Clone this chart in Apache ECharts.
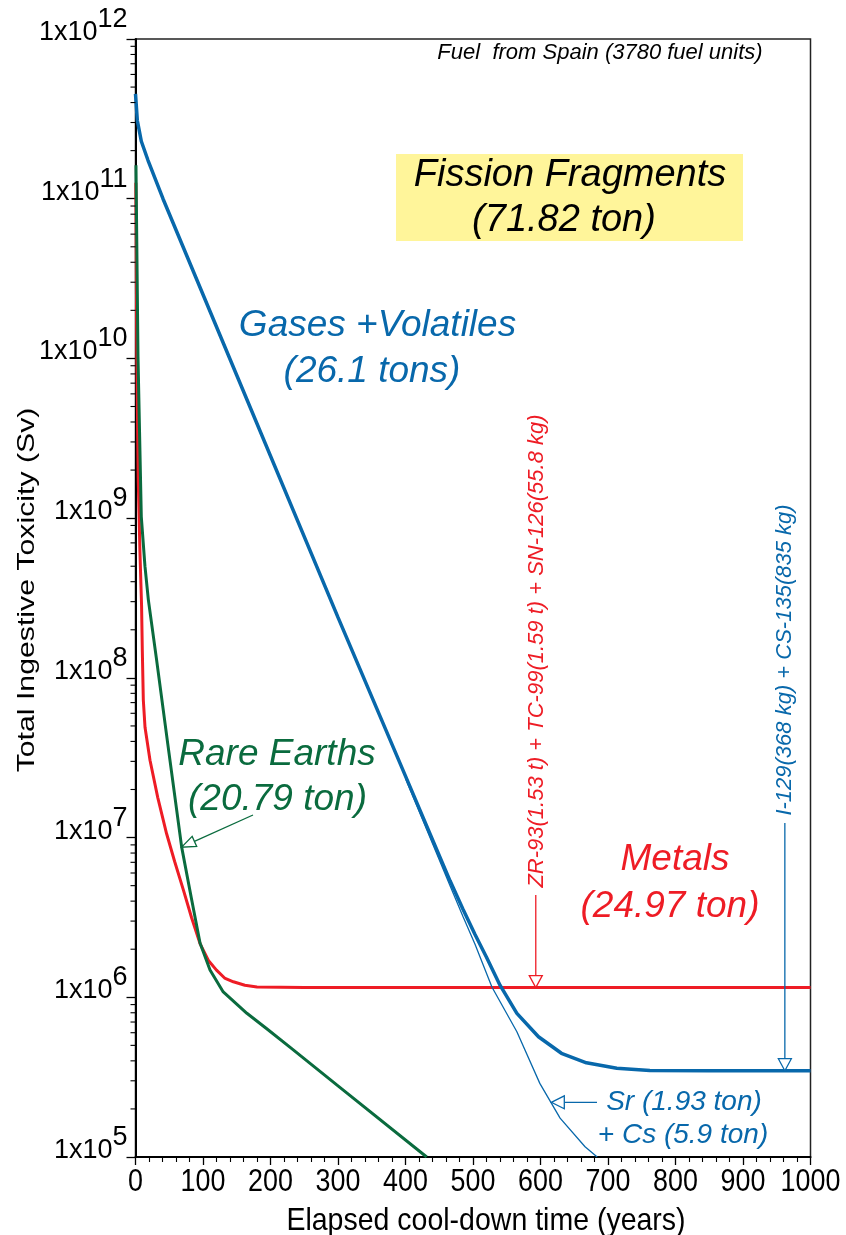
<!DOCTYPE html>
<html>
<head>
<meta charset="utf-8">
<script src="https://cdn.jsdelivr.net/npm/echarts@6/dist/echarts.min.js"></script>
<style>
  html, body { margin: 0; padding: 0; background: #fff; }
  #chart { width: 846px; height: 1235px; }
</style>
</head>
<body>
<div id="chart"></div>
<script>
// Total ingestive toxicity (Sv) of fission-fragment groups vs. cool-down time (years)

// Gases + Volatiles (26.1 tons)
const volatilesYears = [0, 2.7, 8.6, 18.5, 40.7, 150, 300, 466, 485, 503, 520, 540, 565, 597, 631, 668, 713, 762, 850, 1000];
const volatilesSv    = [4.53e11, 3.09e11, 2.29e11, 1.74e11, 1.0e11, 7.85e9, 2.39e8, 5.36e6, 3.57e6, 2.47e6, 1.78e6, 1.19e6, 7.93e5, 5.66e5, 4.46e5, 3.89e5, 3.59e5, 3.48e5, 3.47e5, 3.47e5];

// Sr (1.93 ton) + Cs (5.9 ton)
const srCsYears = [400, 466, 485, 503, 528, 565, 599, 629, 666, 684];
const srCsSv    = [2.34e7, 5.0e6, 3.22e6, 2.15e6, 1.16e6, 6.08e5, 2.89e5, 1.75e5, 1.16e5, 1.0e5];

// Metals (24.97 ton)
const metalsYears = [0.5, 2, 4, 6.5, 9, 10.1, 11.6, 14.1, 21.5, 33, 46, 58, 71, 83, 95.6, 108, 120, 132, 145, 162, 180, 250, 1000];
const metalsSv    = [1.26e11, 1.0e10, 1.78e9, 6.31e8, 2.82e8, 1.48e8, 7.24e7, 4.9e7, 3.05e7, 1.78e7, 1.06e7, 7.08e6, 4.69e6, 3.16e6, 2.17e6, 1.70e6, 1.48e6, 1.32e6, 1.25e6, 1.19e6, 1.16e6, 1.15e6, 1.15e6];

// Rare Earths (20.79 ton)
const rareEarthYears = [0.7, 3.7, 8.6, 14, 19, 31, 47.7, 68.4, 83.3, 95.6, 110.4, 130, 165, 194, 231, 300, 431.4];
const rareEarthSv    = [1.62e11, 1.02e10, 1.02e9, 5.0e8, 3.09e8, 1.32e8, 3.89e7, 8.71e6, 4.07e6, 2.19e6, 1.48e6, 1.08e6, 7.94e5, 6.38e5, 4.79e5, 2.79e5, 1.0e5];

// Axis ranges and tick labels
const xTickValues = [0, 100, 200, 300, 400, 500, 600, 700, 800, 900, 1000];
const xTickLabels = ['0', '100', '200', '300', '400', '500', '600', '700', '800', '900', '1000'];
const yTickPowers = [5, 6, 7, 8, 9, 10, 11, 12];

const BLUE = '#0868ab';
const RED = '#ee1c25';
const GREEN = '#0a6b3e';
const FONT = '"Liberation Sans", Arial, sans-serif';

function pairs(xs, ys) { return xs.map((x, i) => [x, ys[i]]); }

const chart = echarts.init(document.getElementById('chart'), null, { renderer: 'canvas' });

const option = {
  animation: false,
  backgroundColor: '#fff',
  grid: {
    left: 135.5, right: 35.5, top: 39, bottom: 78,
    show: true, borderColor: '#222', borderWidth: 1.5,
    containLabel: false, outerBoundsMode: 'none'
  },
  xAxis: {
    type: 'value',
    min: xTickValues[0], max: xTickValues[xTickValues.length - 1], interval: 100,
    splitLine: { show: false },
    axisLine: { onZero: false, lineStyle: { color: '#000', width: 2 } },
    axisTick: { length: 8, lineStyle: { color: '#000', width: 1.3 } },
    minorTick: { show: true, splitNumber: 5, length: 5, lineStyle: { color: '#000', width: 1.1 } },
    minorSplitLine: { show: false },
    // tick labels are drawn below as tall, slightly condensed text
    axisLabel: { show: false }
  },
  yAxis: {
    type: 'log', logBase: 10,
    min: Math.pow(10, yTickPowers[0]), max: Math.pow(10, yTickPowers[yTickPowers.length - 1]),
    splitNumber: 7,
    splitLine: { show: false },
    axisLine: { lineStyle: { color: '#000', width: 2 } },
    axisTick: { length: 9, lineStyle: { color: '#000', width: 1.3 } },
    axisLabel: {
      margin: 8, color: '#000',
      formatter: v => {
        const p = Math.round(Math.log10(v));
        return '{b|1x10}{e|' + p + '}';
      },
      rich: {
        b: { fontFamily: FONT, fontSize: 27, color: '#000', padding: [13, 0, 26, 0] },
        e: { fontFamily: FONT, fontSize: 27, color: '#000', verticalAlign: 'top' }
      }
    }
  },
  series: [
    {
      name: 'Metals', type: 'line', showSymbol: false, clip: true, z: 3,
      lineStyle: { color: RED, width: 3 },
      data: pairs(metalsYears, metalsSv)
    },
    {
      name: 'Rare Earths', type: 'line', showSymbol: false, clip: true, z: 4,
      lineStyle: { color: GREEN, width: 3 },
      data: pairs(rareEarthYears, rareEarthSv)
    },
    {
      name: 'Sr + Cs', type: 'line', showSymbol: false, clip: true, z: 5,
      lineStyle: { color: BLUE, width: 1.3 },
      data: pairs(srCsYears, srCsSv)
    },
    {
      name: 'Gases + Volatiles', type: 'line', showSymbol: false, clip: true, z: 6,
      lineStyle: { color: BLUE, width: 3.5 },
      data: pairs(volatilesYears, volatilesSv)
    }
  ]
};

chart.setOption(option);

// ---- overlays: tick labels, log minor ticks, titles, annotations ----
const toPx = (x, y) => chart.convertToPixel({ xAxisIndex: 0, yAxisIndex: 0 }, [x, y]);
const yMin = Math.pow(10, yTickPowers[0]);
const gridLeft = toPx(0, yMin)[0];
const gridBottom = toPx(0, yMin)[1];
const els = [];

function text(str, x, y, opts) {
  return Object.assign({
    type: 'text', x: x, y: y, silent: true, z: 120,
    style: Object.assign({ text: str, align: 'center', verticalAlign: 'middle', fill: '#000',
                           font: 'italic 37px ' + FONT }, opts.style || {})
  }, opts.el || {});
}

// x tick labels (tall, condensed digits)
xTickValues.forEach((v, i) => {
  const px = toPx(v, yMin)[0];
  els.push(text(xTickLabels[i], px, gridBottom + 25, {
    style: { font: '32px ' + FONT }, el: { scaleX: 0.84 }
  }));
});

// minor ticks at 2..9 x 10^k on the log axis
for (let k = yTickPowers[0]; k < yTickPowers[yTickPowers.length - 1]; k++) {
  for (let m = 2; m <= 9; m++) {
    const y = toPx(0, m * Math.pow(10, k))[1];
    els.push({ type: 'line', shape: { x1: gridLeft - 5, y1: y, x2: gridLeft, y2: y },
               style: { stroke: '#000', lineWidth: 1.1 }, silent: true, z: 50 });
  }
}

function arrow(tail, tip, color, len, half) {
  const ang = Math.atan2(tip[1] - tail[1], tip[0] - tail[0]);
  const bx = tip[0] - len * Math.cos(ang), by = tip[1] - len * Math.sin(ang);
  const px = -Math.sin(ang) * half, py = Math.cos(ang) * half;
  return [
    { type: 'line', shape: { x1: tail[0], y1: tail[1], x2: bx, y2: by },
      style: { stroke: color, lineWidth: 1.3 }, silent: true, z: 110 },
    { type: 'polygon', shape: { points: [tip, [bx + px, by + py], [bx - px, by - py]] },
      style: { fill: '#fff', stroke: color, lineWidth: 1.3 }, silent: true, z: 111 }
  ];
}

// axis titles
els.push(text('Total Ingestive Toxicity (Sv)', 27, 590, {
  style: { font: '24px ' + FONT },
  el: { rotation: Math.PI / 2, scaleX: 1.26 }
}));
els.push(text('Elapsed cool-down time (years)', 486, 1221, {
  style: { font: '28.5px ' + FONT },
  el: { scaleY: 1.12 }
}));

// header
els.push(text('Fuel  from Spain (3780 fuel units)', 600, 52.5, { style: { font: 'italic 22px ' + FONT } }));

// Fission Fragments box
els.push({ type: 'rect', shape: { x: 396, y: 154, width: 347, height: 87 },
           style: { fill: '#fff59a' }, silent: true, z: 100 });
els.push(text('Fission Fragments', 570, 175, { style: { font: 'italic 38px ' + FONT } }));
els.push(text('(71.82 ton)', 564, 220, { style: { font: 'italic 38px ' + FONT } }));

// group labels
els.push(text('Gases +Volatiles', 377.5, 326, { style: { fill: BLUE } }));
els.push(text('(26.1 tons)', 372, 372, { style: { fill: BLUE } }));
els.push(text('Rare Earths', 277, 755, { style: { fill: GREEN } }));
els.push(text('(20.79 ton)', 277.5, 800, { style: { fill: GREEN } }));
els.push(text('Metals', 675, 860, { style: { fill: RED } }));
els.push(text('(24.97 ton)', 670, 906.5, { style: { fill: RED } }));
els.push(text('Sr (1.93 ton)', 684, 1102.5, { style: { fill: BLUE, font: 'italic 28px ' + FONT } }));
els.push(text('+ Cs (5.9 ton)', 683, 1135, { style: { fill: BLUE, font: 'italic 28px ' + FONT } }));

// long-lived nuclide call-outs
els.push(text('ZR-93(1.53 t) + TC-99(1.59 t) + SN-126(55.8 kg)', 537, 651, {
  style: { fill: RED, font: 'italic 22px ' + FONT }, el: { rotation: Math.PI / 2 }
}));
const metalsTip = toPx(593, metalsSv[metalsSv.length - 1]);
arrow([metalsTip[0], 895], metalsTip, RED, 12, 6.5).forEach(e => els.push(e));

els.push(text('I-129(368 kg) + CS-135(835 kg)', 785, 660, {
  style: { fill: BLUE, font: 'italic 22px ' + FONT }, el: { rotation: Math.PI / 2 }
}));
const volTip = toPx(962, volatilesSv[volatilesSv.length - 1]);
arrow([volTip[0], 823], volTip, BLUE, 12, 6.5).forEach(e => els.push(e));

// Sr + Cs pointer
const srTip = toPx(616, 2.2e5);
arrow([597, srTip[1]], srTip, BLUE, 13, 6.5).forEach(e => els.push(e));

// Rare Earths pointer
const reTip = toPx(68.4, 8.71e6);
arrow([253, 815], reTip, GREEN, 14, 5.5).forEach(e => els.push(e));

chart.setOption({ graphic: { elements: els } });
</script>
</body>
</html>
